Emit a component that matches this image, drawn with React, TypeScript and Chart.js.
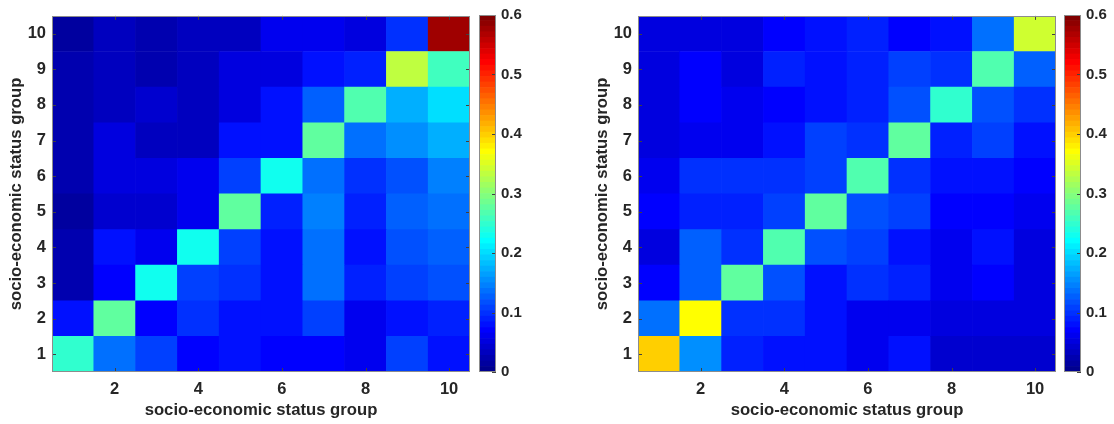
import React, { useEffect, useRef } from 'react';
import { Chart, registerables } from 'chart.js';
Chart.register(...registerables);

// ---------- data ----------
const groups = ['1', '2', '3', '4', '5', '6', '7', '8', '9', '10'];
const xTickLabels = ['2', '4', '6', '8', '10'];
const yTickValues = [1, 2, 3, 4, 5, 6, 7, 8, 9, 10];
const colorTickValues = [0, 0.1, 0.2, 0.3, 0.4, 0.5, 0.6];
const colorMin = 0;
const colorMax = 0.6;
const axisTitle = 'socio-economic status group';

// rows listed from group 1 (bottom) to group 10 (top); columns are groups 1..10
const leftValues = [
  [0.245, 0.132, 0.112, 0.068, 0.08, 0.072, 0.072, 0.062, 0.107, 0.076],
  [0.078, 0.28, 0.068, 0.1, 0.08, 0.08, 0.107, 0.062, 0.075, 0.09],
  [0.02, 0.07, 0.23, 0.112, 0.1, 0.076, 0.137, 0.085, 0.107, 0.117],
  [0.02, 0.075, 0.062, 0.232, 0.112, 0.075, 0.132, 0.076, 0.117, 0.127],
  [0.015, 0.043, 0.045, 0.06, 0.28, 0.09, 0.145, 0.085, 0.127, 0.137],
  [0.02, 0.055, 0.055, 0.065, 0.112, 0.23, 0.136, 0.094, 0.117, 0.141],
  [0.02, 0.05, 0.035, 0.03, 0.08, 0.075, 0.28, 0.132, 0.15, 0.178],
  [0.02, 0.03, 0.04, 0.03, 0.05, 0.075, 0.127, 0.27, 0.178, 0.198],
  [0.02, 0.03, 0.02, 0.03, 0.055, 0.055, 0.08, 0.085, 0.33, 0.26],
  [0.01, 0.03, 0.02, 0.03, 0.035, 0.06, 0.06, 0.05, 0.1, 0.58],
];

const rightValues = [
  [0.397, 0.155, 0.085, 0.078, 0.078, 0.062, 0.08, 0.04, 0.045, 0.04],
  [0.132, 0.366, 0.1, 0.097, 0.08, 0.062, 0.062, 0.055, 0.055, 0.05],
  [0.068, 0.127, 0.28, 0.117, 0.08, 0.1, 0.085, 0.058, 0.068, 0.05],
  [0.055, 0.127, 0.1, 0.27, 0.117, 0.105, 0.075, 0.058, 0.075, 0.055],
  [0.068, 0.09, 0.09, 0.112, 0.28, 0.117, 0.105, 0.068, 0.072, 0.062],
  [0.058, 0.1, 0.097, 0.097, 0.112, 0.27, 0.097, 0.08, 0.075, 0.068],
  [0.05, 0.062, 0.062, 0.08, 0.105, 0.1, 0.28, 0.085, 0.105, 0.075],
  [0.05, 0.073, 0.062, 0.07, 0.08, 0.09, 0.117, 0.253, 0.117, 0.094],
  [0.05, 0.068, 0.05, 0.088, 0.08, 0.092, 0.105, 0.097, 0.27, 0.122],
  [0.05, 0.05, 0.05, 0.073, 0.08, 0.09, 0.072, 0.075, 0.132, 0.34],
];

// ---------- colormap (MATLAB jet, 64 levels) ----------
function jetColormap(m: number): number[][] {
  const n = Math.ceil(m / 4);
  const u: number[] = [];
  for (let i = 1; i <= n; i++) u.push(i / n);
  for (let i = 1; i < n; i++) u.push(1);
  for (let i = n; i >= 1; i--) u.push(i / n);
  const off = Math.ceil(n / 2) - (m % 4 === 1 ? 1 : 0);
  const J = Array.from({ length: m }, () => [0, 0, 0]);
  u.forEach((val, k) => {
    const g = off + k + 1;
    const r = g + n;
    const b = g - n;
    if (r >= 1 && r <= m) J[r - 1][0] = val;
    if (g >= 1 && g <= m) J[g - 1][1] = val;
    if (b >= 1 && b <= m) J[b - 1][2] = val;
  });
  return J;
}
const LEVELS = 64;
const JET = jetColormap(LEVELS);
const rgb = (c: number[]) =>
  `rgb(${Math.round(c[0] * 255)},${Math.round(c[1] * 255)},${Math.round(c[2] * 255)})`;
function colorFor(v: number): string {
  let idx = Math.floor(((v - colorMin) / (colorMax - colorMin)) * LEVELS);
  idx = Math.max(0, Math.min(LEVELS - 1, idx));
  return rgb(JET[idx]);
}

// ---------- style ----------
const FONT = '"Liberation Sans", Arial, Helvetica, sans-serif';
const TEXT = '#262626';
const EDGE = '#8c8c8c';

const matlabBox = {
  id: 'matlabBox',
  afterDatasetsDraw(chart: any, _args: any, opts: any) {
    const { ctx, chartArea: a } = chart;
    const L = opts.tickLen ?? 4;
    ctx.save();
    ctx.lineWidth = 1;
    ctx.strokeStyle = opts.tickColor ?? '#404040';
    ctx.beginPath();
    if (opts.xTicks) {
      const xs = chart.scales.x;
      xs.ticks.forEach((t: any, i: number) => {
        const lab = xs.getLabelForValue(t.value);
        if (!opts.xTicks.includes(lab)) return;
        const px = Math.round(xs.getPixelForTick(i)) + 0.5;
        ctx.moveTo(px, a.bottom);
        ctx.lineTo(px, a.bottom - L);
        ctx.moveTo(px, a.top);
        ctx.lineTo(px, a.top + L);
      });
    }
    if (opts.yTicks) {
      const ys = chart.scales.y;
      opts.yTicks.forEach((v: number) => {
        const py = Math.round(ys.getPixelForValue(v)) + 0.5;
        if (opts.yBothSides) {
          ctx.moveTo(a.left, py);
          ctx.lineTo(a.left + L, py);
        }
        ctx.moveTo(a.right, py);
        ctx.lineTo(a.right - L, py);
      });
    }
    ctx.stroke();
    ctx.strokeStyle = EDGE;
    ctx.strokeRect(Math.round(a.left) + 0.5, Math.round(a.top) + 0.5, Math.round(a.right - a.left) - 1, Math.round(a.bottom - a.top) - 1);
    ctx.restore();
  },
};

function Heatmap({ values, left }: { values: number[][]; left: number }) {
  const ref = useRef<HTMLCanvasElement>(null);
  useEffect(() => {
    const datasets = values.map((row, r) => ({
      label: `group ${r + 1}`,
      data: row.map(() => [r + 1 - 0.5, r + 1 + 0.5]),
      backgroundColor: row.map((v) => colorFor(v)),
      borderWidth: 0,
      borderSkipped: false,
      grouped: false,
      barPercentage: 1,
      categoryPercentage: 1,
    }));
    const chart = new Chart(ref.current!, {
      type: 'bar',
      data: { labels: groups, datasets: datasets as any },
      plugins: [matlabBox as any],
      options: {
        responsive: false,
        animation: false,
        events: [],
        layout: { padding: { top: 15, right: 1, left: 0, bottom: 0 } },
        plugins: {
          legend: { display: false },
          tooltip: { enabled: false },
          matlabBox: { xTicks: xTickLabels, yTicks: yTickValues, yBothSides: true, tickLen: 4 },
        } as any,
        scales: {
          x: {
            type: 'category',
            offset: true,
            grid: { display: false, drawTicks: false },
            border: { display: false },
            ticks: {
              autoSkip: false,
              maxRotation: 0,
              padding: 8,
              color: TEXT,
              font: { family: FONT, size: 16.5, weight: 'bold' },
              callback: (_v: any, i: number) => (xTickLabels.includes(groups[i]) ? groups[i] : ''),
            },
            title: {
              display: true,
              text: axisTitle,
              color: TEXT,
              font: { family: FONT, size: 16.7, weight: 'bold' },
              padding: { top: 0, bottom: 4 },
            },
            afterFit: (s: any) => {
              s.height = 52;
            },
          },
          y: {
            type: 'linear',
            min: 0.5,
            max: 10.5,
            grid: { display: false, drawTicks: false },
            border: { display: false },
            afterBuildTicks: (s: any) => {
              s.ticks = yTickValues.map((v) => ({ value: v }));
            },
            ticks: {
              padding: 6,
              color: TEXT,
              font: { family: FONT, size: 16.5, weight: 'bold' },
            },
            title: {
              display: true,
              text: axisTitle,
              color: TEXT,
              font: { family: FONT, size: 16.7, weight: 'bold' },
              padding: { top: 6, bottom: 0 },
            },
            afterFit: (s: any) => {
              s.width = 52;
            },
          },
        },
      } as any,
    });
    return () => chart.destroy();
  }, [values]);
  return (
    <canvas
      ref={ref}
      width={471}
      height={424}
      style={{ position: 'absolute', left, top: 0, width: 471, height: 424 }}
    />
  );
}

function ColorBar({ left, width }: { left: number; width: number }) {
  const ref = useRef<HTMLCanvasElement>(null);
  useEffect(() => {
    const step = (colorMax - colorMin) / LEVELS;
    const datasets = JET.map((c, i) => ({
      data: [[colorMin + i * step, colorMin + (i + 1) * step]],
      backgroundColor: rgb(c),
      borderWidth: 0,
      borderSkipped: false,
      grouped: false,
      barPercentage: 1,
      categoryPercentage: 1,
    }));
    const chart = new Chart(ref.current!, {
      type: 'bar',
      data: { labels: ['c'], datasets: datasets as any },
      plugins: [matlabBox as any],
      options: {
        responsive: false,
        animation: false,
        events: [],
        layout: { padding: { top: 15, left: 7, right: 0, bottom: 52 } },
        plugins: {
          legend: { display: false },
          tooltip: { enabled: false },
          matlabBox: { yTicks: colorTickValues, yBothSides: false, tickLen: 4 },
        } as any,
        scales: {
          x: { display: false, offset: true },
          y: {
            type: 'linear',
            position: 'right',
            min: colorMin,
            max: colorMax,
            grid: { display: false, drawTicks: false },
            border: { display: false },
            afterBuildTicks: (s: any) => {
              s.ticks = colorTickValues.map((v) => ({ value: v }));
            },
            ticks: {
              padding: 5,
              color: TEXT,
              font: { family: FONT, size: 15, weight: 'bold' },
              callback: (v: any) => String(Math.round(Number(v) * 10) / 10),
            },
            afterFit: (s: any) => {
              s.width = width - 24;
            },
          },
        },
      } as any,
    });
    return () => chart.destroy();
  }, [left, width]);
  return (
    <canvas
      ref={ref}
      width={width}
      height={424}
      style={{ position: 'absolute', left, top: 0, width, height: 424 }}
    />
  );
}

export default function App() {
  return (
    <div style={{ position: 'absolute', left: 0, top: 0, width: 1114, height: 424, background: '#fff', overflow: 'hidden' }}>
      <Heatmap values={leftValues} left={0} />
      <ColorBar left={472} width={110} />
      <Heatmap values={rightValues} left={586} />
      <ColorBar left={1057} width={57} />
    </div>
  );
}
